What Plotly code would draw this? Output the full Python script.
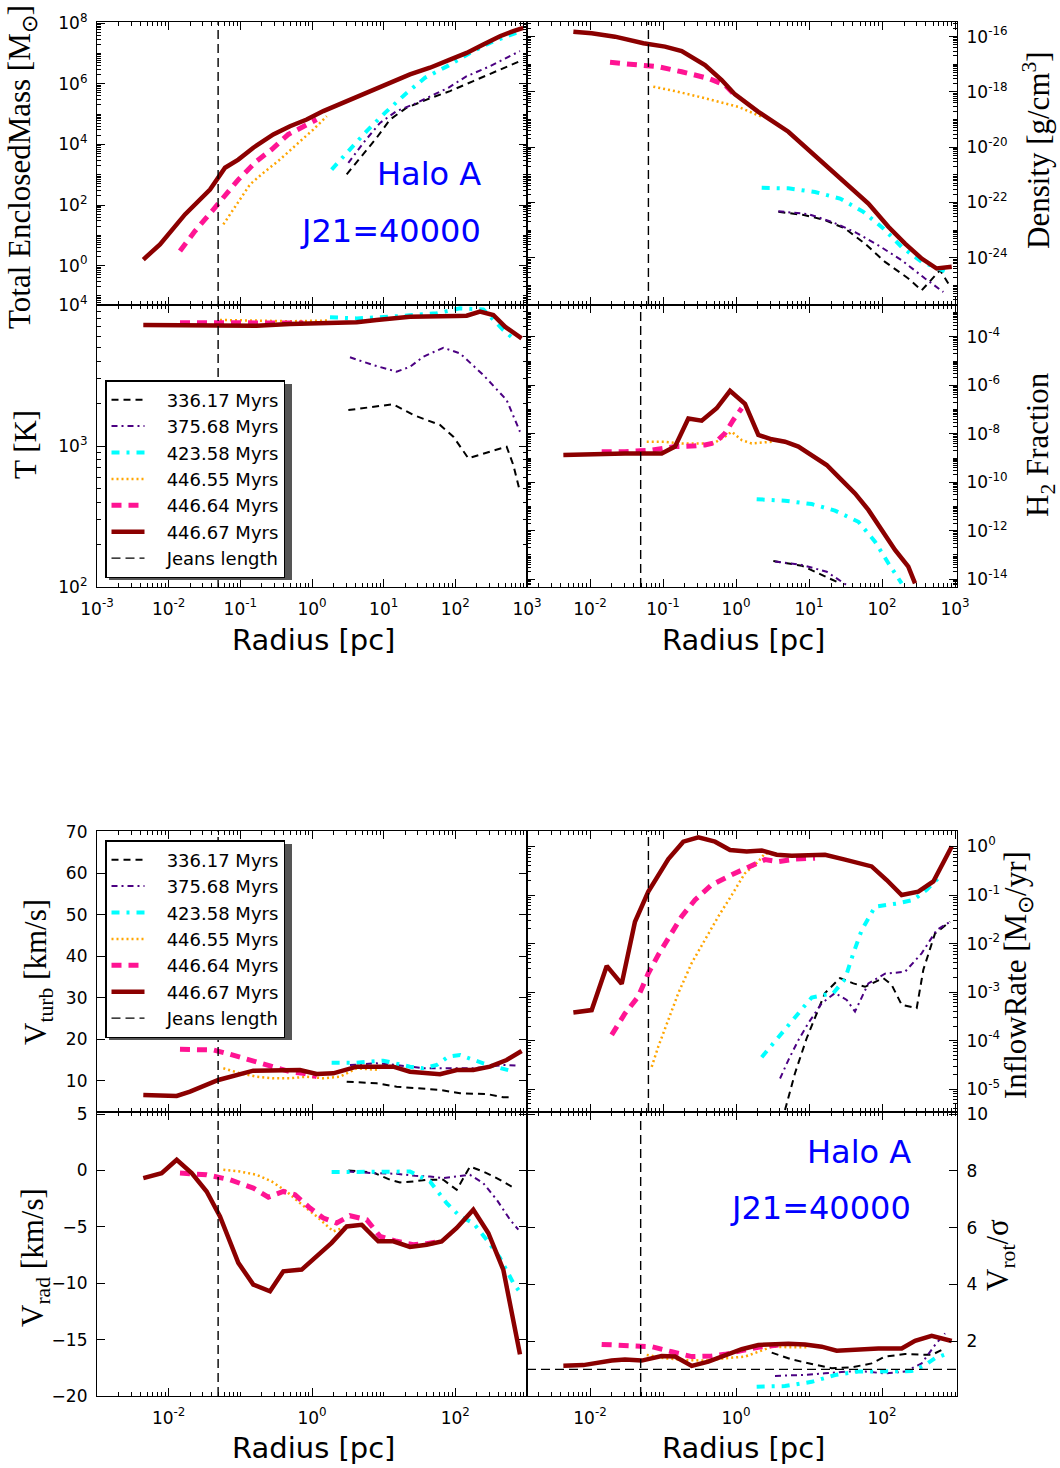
import numpy as np
import plotly.graph_objects as go

W, H = 1060, 1468

# Snapshot labels (legend order) and their line styles
SNAPS = ["336.17 Myrs", "375.68 Myrs", "423.58 Myrs", "446.55 Myrs", "446.64 Myrs", "446.67 Myrs"]
STYLE = {
    "336.17 Myrs": dict(color="black", width=2, dash="7px,5px"),
    "375.68 Myrs": dict(color="#4B0082", width=2, dash="6px,4px,2px,4px"),
    "423.58 Myrs": dict(color="#00FFFF", width=4, dash="8px,7px,3px,7px"),
    "446.55 Myrs": dict(color="#FFA500", width=2.5, dash="2px,3px"),
    "446.64 Myrs": dict(color="#FF1493", width=5, dash="10px,7px"),
    "446.67 Myrs": dict(color="#8B0000", width=4.5, dash="solid"),
}
JEANS_STYLE = dict(color="black", width=1.4, dash="9px,5px")
JEANS_LABEL = "Jeans length"

# ---------------- profiles: log10(radius / pc) and the profile value ----------------
# Total enclosed mass, log10(M / Msun)
mass_logr = {
    "336.17 Myrs": [0.484, 0.693, 0.902, 1.088, 1.321, 1.600, 1.925, 2.251, 2.577, 2.902],
    "375.68 Myrs": [0.507, 0.716, 0.949, 1.181, 1.414, 1.646, 1.902, 2.158, 2.483, 2.902],
    "423.58 Myrs": [0.274, 0.530, 0.763, 1.018, 1.297, 1.577, 1.902, 2.204, 2.483, 2.716, 2.925],
    "446.55 Myrs": [-1.237, -1.051, -0.865, -0.679, -0.447, -0.214, 0.018, 0.205],
    "446.64 Myrs": [-1.842, -1.633, -1.377, -1.191, -1.028, -0.772, -0.563, -0.331, -0.121, 0.065],
    "446.67 Myrs": [-2.354, -2.121, -1.772, -1.423, -1.214, -1.028, -0.819, -0.540, -0.307, -0.074, 0.158,
                    0.437, 0.763, 1.088, 1.367, 1.646, 1.925, 2.158, 2.390, 2.623, 2.809, 2.948],
}
mass_logm = {
    "336.17 Myrs": [3.01, 3.61, 4.22, 4.82, 5.21, 5.48, 5.76, 6.09, 6.42, 6.75],
    "375.68 Myrs": [3.39, 4.05, 4.71, 5.10, 5.32, 5.59, 5.87, 6.25, 6.58, 7.08],
    "423.58 Myrs": [3.17, 3.83, 4.44, 5.04, 5.65, 6.20, 6.60, 7.02, 7.35, 7.57, 7.74],
    "446.55 Myrs": [1.36, 2.02, 2.68, 3.06, 3.50, 4.00, 4.49, 4.93],
    "446.64 Myrs": [0.48, 1.14, 1.85, 2.35, 2.84, 3.45, 3.83, 4.33, 4.60, 4.82],
    "446.67 Myrs": [0.20, 0.70, 1.69, 2.51, 3.23, 3.50, 3.89, 4.33, 4.60, 4.82, 5.10,
                    5.39, 5.72, 6.03, 6.31, 6.53, 6.80, 7.02, 7.30, 7.57, 7.74, 7.85],
}

# Gas density, log10(rho / g cm^-3)
dens_logr = {
    "336.17 Myrs": [0.580, 0.945, 1.219, 1.493, 1.767, 2.041, 2.360, 2.543, 2.795, 2.908],
    "375.68 Myrs": [0.580, 0.990, 1.311, 1.630, 1.949, 2.269, 2.589, 2.840],
    "423.58 Myrs": [0.352, 0.717, 1.082, 1.425, 1.744, 2.018, 2.269, 2.543, 2.886],
    "446.55 Myrs": [-1.133, -0.836, -0.516, -0.242, 0.032, 0.352],
    "446.64 Myrs": [-1.726, -1.384, -1.064, -0.744, -0.379, -0.151, -0.014],
    "446.67 Myrs": [-2.228, -1.977, -1.658, -1.269, -0.973, -0.744, -0.425, -0.196, -0.014, 0.306,
                    0.717, 0.945, 1.265, 1.493, 1.813, 2.087, 2.315, 2.543, 2.749, 2.955],
}
dens_logrho = {
    "336.17 Myrs": [-22.34, -22.46, -22.64, -22.94, -23.49, -24.15, -24.75, -25.18, -24.45, -24.93],
    "375.68 Myrs": [-22.32, -22.42, -22.70, -23.07, -23.55, -24.09, -24.75, -25.24],
    "423.58 Myrs": [-21.47, -21.49, -21.62, -21.86, -22.34, -22.94, -23.61, -24.15, -24.51],
    "446.55 Myrs": [-17.81, -17.97, -18.17, -18.36, -18.54, -18.90],
    "446.64 Myrs": [-16.93, -16.99, -17.09, -17.27, -17.51, -17.75, -18.12],
    "446.67 Myrs": [-15.82, -15.88, -16.00, -16.24, -16.36, -16.52, -17.03, -17.57, -18.09, -18.72,
                    -19.44, -19.99, -20.71, -21.31, -22.04, -22.88, -23.49, -24.03, -24.39, -24.33],
}

# Temperature, log10(T / K)
temp_logr = {
    "336.17 Myrs": [0.507, 0.855, 1.134, 1.414, 1.786, 1.972, 2.181, 2.483, 2.716, 2.809, 2.902],
    "375.68 Myrs": [0.530, 0.855, 1.181, 1.367, 1.553, 1.832, 2.065, 2.390, 2.716, 2.902],
    "423.58 Myrs": [0.251, 0.623, 1.088, 1.740, 2.065, 2.390, 2.669, 2.832],
    "446.55 Myrs": [-1.284, -0.772, -0.307, 0.251],
    "446.64 Myrs": [-1.842, -1.237, -0.772, -0.121],
    "446.67 Myrs": [-2.354, -1.702, -1.237, -0.772, -0.307, 0.158, 0.623, 0.902, 1.367, 2.019,
                    2.158, 2.344, 2.530, 2.693, 2.925],
}
temp_logt = {
    "336.17 Myrs": [3.255, 3.279, 3.296, 3.220, 3.149, 3.066, 2.913, 2.960, 2.995, 2.865, 2.676],
    "375.68 Myrs": [3.629, 3.574, 3.527, 3.562, 3.633, 3.697, 3.657, 3.504, 3.326, 3.101],
    "423.58 Myrs": [3.913, 3.905, 3.917, 3.941, 3.976, 3.969, 3.823, 3.752],
    "446.55 Myrs": [3.894, 3.890, 3.885, 3.890],
    "446.64 Myrs": [3.875, 3.872, 3.870, 3.872],
    "446.67 Myrs": [3.858, 3.858, 3.858, 3.853, 3.865, 3.870, 3.877, 3.894, 3.917, 3.922,
                    3.924, 3.953, 3.929, 3.846, 3.764],
}

# Molecular hydrogen fraction, log10(f_H2)
h2_logr = {
    "336.17 Myrs": [0.511, 0.900, 1.174, 1.425],
    "375.68 Myrs": [0.534, 0.900, 1.242, 1.516],
    "423.58 Myrs": [0.283, 0.671, 1.037, 1.356, 1.676, 1.904, 2.087, 2.269],
    "446.55 Myrs": [-1.223, -0.973, -0.744, -0.516, -0.310, -0.151, -0.059, 0.078, 0.215, 0.489],
    "446.64 Myrs": [-1.840, -1.521, -1.155, -0.836, -0.607, -0.425, -0.288, -0.151, -0.037, 0.078],
    "446.67 Myrs": [-2.365, -1.977, -1.521, -1.018, -0.836, -0.653, -0.470, -0.265, -0.082, 0.123,
                    0.306, 0.489, 0.671, 0.854, 1.037, 1.242, 1.448, 1.630, 1.813, 1.996, 2.178,
                    2.360, 2.452],
}
h2_logf = {
    "336.17 Myrs": [-13.25, -13.44, -13.82, -14.17],
    "375.68 Myrs": [-13.27, -13.41, -13.69, -14.24],
    "423.58 Myrs": [-10.70, -10.76, -10.90, -11.17, -11.63, -12.45, -13.34, -14.17],
    "446.55 Myrs": [-8.33, -8.33, -8.40, -8.40, -8.40, -8.12, -7.92, -8.26, -8.40, -8.33],
    "446.64 Myrs": [-8.74, -8.74, -8.67, -8.53, -8.51, -8.46, -8.37, -7.98, -7.43, -6.95],
    "446.67 Myrs": [-8.88, -8.84, -8.81, -8.81, -8.53, -7.37, -7.46, -6.95, -6.23, -6.77,
                    -8.05, -8.23, -8.33, -8.53, -8.88, -9.29, -9.91, -10.46, -11.14, -11.97, -12.79,
                    -13.48, -14.17],
}

# Turbulent velocity, km/s
vturb_logr = {
    "336.17 Myrs": [0.484, 0.902, 1.181, 1.507, 1.786, 2.065, 2.437, 2.669, 2.786],
    "375.68 Myrs": [0.530, 0.902, 1.181, 1.553, 1.972, 2.251, 2.669, 2.879],
    "423.58 Myrs": [0.274, 0.623, 0.995, 1.367, 1.553, 1.740, 1.902, 2.065, 2.390, 2.763],
    "446.55 Myrs": [-1.237, -1.005, -0.772, -0.540, -0.307, -0.074, 0.158, 0.390, 0.623, 0.949],
    "446.64 Myrs": [-1.842, -1.377, -1.191, -0.865, -0.586, -0.307, -0.121, 0.065],
    "446.67 Myrs": [-2.354, -1.888, -1.702, -1.307, -0.819, -0.493, -0.168, 0.065, 0.297, 0.623,
                    0.949, 1.134, 1.367, 1.786, 2.019, 2.251, 2.483, 2.716, 2.925],
}
vturb_kms = {
    "336.17 Myrs": [9.76, 9.37, 8.55, 8.17, 7.76, 6.96, 6.79, 6.00, 6.00],
    "375.68 Myrs": [13.78, 14.19, 13.78, 12.99, 12.99, 12.99, 13.78, 13.60],
    "423.58 Myrs": [14.34, 14.34, 14.82, 13.38, 12.99, 13.78, 15.79, 16.20, 14.19, 12.41],
    "446.55 Myrs": [12.99, 11.78, 10.97, 10.58, 10.58, 10.97, 10.58, 10.97, 12.99, 12.58],
    "446.64 Myrs": [17.57, 17.40, 16.60, 14.99, 13.54, 12.17, 11.78, 10.97],
    "446.67 Myrs": [6.55, 6.31, 7.35, 10.17, 12.41, 12.41, 12.58, 11.62, 11.78, 13.38,
                    13.22, 13.38, 12.17, 11.54, 12.58, 12.58, 13.38, 14.99, 17.16],
}

# Mass inflow rate, log10(Mdot / Msun yr^-1)
inflow_logr = {
    "336.17 Myrs": [0.671, 0.808, 0.968, 1.082, 1.219, 1.425, 1.607, 1.767, 2.018, 2.132, 2.269,
                    2.475, 2.566, 2.726, 2.932],
    "375.68 Myrs": [0.603, 0.717, 0.854, 0.990, 1.174, 1.356, 1.516, 1.630, 1.813, 2.041, 2.315,
                    2.543, 2.749, 2.932],
    "423.58 Myrs": [0.352, 0.580, 0.808, 1.037, 1.333, 1.493, 1.607, 1.722, 1.904, 2.223, 2.429,
                    2.612, 2.818],
    "446.55 Myrs": [-1.155, -1.064, -0.927, -0.790, -0.607, -0.425, -0.242, -0.059, 0.123, 0.306,
                    0.397, 0.580],
    "446.64 Myrs": [-1.703, -1.521, -1.338, -1.201, -1.064, -0.927, -0.744, -0.562, -0.333, -0.059,
                    0.215, 0.397, 0.580, 0.808, 1.082],
    "446.67 Myrs": [-2.228, -1.977, -1.771, -1.566, -1.384, -1.201, -0.927, -0.722, -0.516, -0.288,
                    -0.082, 0.146, 0.352, 0.557, 0.763, 1.219, 1.493, 1.858, 2.064, 2.269, 2.497,
                    2.703, 2.955],
}
inflow_logmdot = {
    "336.17 Myrs": [-5.43, -4.67, -3.95, -3.51, -3.02, -2.71, -2.82, -2.89, -2.71, -2.85, -3.26,
                    -3.33, -2.54, -1.79, -1.55],
    "375.68 Myrs": [-4.78, -4.40, -3.99, -3.64, -3.23, -3.02, -3.16, -3.40, -2.82, -2.62, -2.58,
                    -2.20, -1.72, -1.55],
    "423.58 Myrs": [-4.34, -3.92, -3.51, -3.11, -3.02, -2.73, -2.20, -1.72, -1.24, -1.17, -1.10,
                    -0.89, -0.58],
    "446.55 Myrs": [-4.54, -4.12, -3.57, -3.02, -2.40, -1.92, -1.44, -1.00, -0.55, -0.31, -0.14, -0.17],
    "446.64 Myrs": [-3.88, -3.44, -3.09, -2.61, -2.23, -1.89, -1.44, -1.10, -0.79, -0.58, -0.38,
                    -0.27, -0.31, -0.26, -0.24],
    "446.67 Myrs": [-3.42, -3.37, -2.46, -2.83, -1.55, -0.93, -0.26, 0.10, 0.19, 0.10, -0.07, -0.10,
                    -0.08, -0.17, -0.19, -0.17, -0.27, -0.41, -0.69, -1.00, -0.93, -0.72, 0.00],
}

# Radial velocity, km/s
vrad_logr = {
    "336.17 Myrs": [0.507, 0.855, 1.088, 1.228, 1.414, 1.600, 1.832, 2.019, 2.204, 2.390, 2.577, 2.786],
    "375.68 Myrs": [0.507, 0.855, 1.181, 1.437, 1.646, 1.832, 2.019, 2.204, 2.390, 2.577, 2.763, 2.879],
    "423.58 Myrs": [0.274, 0.577, 0.995, 1.367, 1.646, 1.879, 2.065, 2.251, 2.437, 2.623, 2.809, 2.925],
    "446.55 Myrs": [-1.237, -1.005, -0.772, -0.563, -0.354, -0.168, 0.065, 0.297, 0.484, 0.716, 0.902],
    "446.64 Myrs": [-1.842, -1.470, -1.144, -0.819, -0.609, -0.400, -0.237, -0.028, 0.158, 0.344,
                    0.530, 0.763, 0.949, 1.181, 1.414, 1.600, 1.786],
    "446.67 Myrs": [-2.354, -2.098, -1.888, -1.679, -1.470, -1.284, -1.028, -0.819, -0.586, -0.400,
                    -0.144, 0.065, 0.274, 0.484, 0.693, 0.925, 1.134, 1.367, 1.600, 1.809, 2.019,
                    2.251, 2.460, 2.669, 2.902],
}
vrad_kms = {
    "336.17 Myrs": [0.00, -0.18, -0.82, -1.06, -0.97, -0.82, -0.82, -1.71, 0.35, -0.09, -0.67, -1.42],
    "375.68 Myrs": [-0.09, -0.23, -0.29, -0.47, -0.53, -0.67, -0.53, -0.38, -1.12, -2.59, -4.36, -5.25],
    "423.58 Myrs": [-0.14, -0.14, -0.09, -0.09, -0.97, -2.89, -4.07, -4.66, -6.13, -7.75, -9.97, -11.00],
    "446.55 Myrs": [0.06, -0.09, -0.38, -0.97, -1.86, -2.89, -4.07, -5.40, -4.96, -4.81, -6.13],
    "446.64 Myrs": [-0.23, -0.38, -0.82, -1.56, -2.36, -1.86, -2.15, -3.33, -4.21, -4.66, -4.01,
                    -4.36, -5.84, -6.28, -6.58, -6.49, -6.28],
    "446.67 Myrs": [-0.67, -0.23, 0.95, -0.23, -1.86, -4.07, -8.19, -10.12, -10.71, -8.94, -8.79,
                    -7.61, -6.42, -4.96, -4.81, -6.28, -6.28, -6.78, -6.58, -6.28, -5.10, -3.48,
                    -5.54, -8.79, -16.31],
}

# Rotational support, V_rot / sigma
vrot_logr = {
    "336.17 Myrs": [0.489, 0.763, 1.037, 1.310, 1.584, 1.858, 2.041, 2.315, 2.680, 2.840],
    "375.68 Myrs": [0.534, 0.900, 1.219, 1.493, 1.767, 2.041, 2.315, 2.543, 2.726, 2.863],
    "423.58 Myrs": [0.283, 0.671, 1.037, 1.356, 1.676, 2.041, 2.406, 2.589, 2.726, 2.909],
    "446.55 Myrs": [-1.223, -0.973, -0.699, -0.425, -0.151, 0.123, 0.306, 0.489, 0.717, 0.990],
    "446.64 Myrs": [-1.840, -1.521, -1.155, -0.881, -0.607, -0.333, -0.151, 0.078, 0.306, 0.580],
    "446.67 Myrs": [-2.365, -2.091, -1.703, -1.521, -1.292, -1.018, -0.836, -0.607, -0.379, -0.151,
                    0.078, 0.306, 0.717, 0.945, 1.173, 1.379, 1.676, 1.949, 2.269, 2.452, 2.680,
                    2.818, 2.955],
}
vrot_ratio = {
    "336.17 Myrs": [1.59, 1.35, 1.19, 1.04, 1.07, 1.21, 1.45, 1.54, 1.51, 1.71],
    "375.68 Myrs": [0.77, 0.80, 0.86, 0.92, 0.92, 0.86, 0.92, 1.21, 1.86, 2.27],
    "423.58 Myrs": [0.39, 0.41, 0.56, 0.80, 0.92, 0.94, 0.94, 1.15, 1.39, 1.57],
    "446.55 Myrs": [1.51, 1.39, 1.33, 1.31, 1.39, 1.45, 1.62, 1.80, 1.78, 1.78],
    "446.64 Myrs": [1.88, 1.86, 1.80, 1.62, 1.45, 1.47, 1.53, 1.66, 1.78, 1.86],
    "446.67 Myrs": [1.13, 1.15, 1.31, 1.35, 1.31, 1.47, 1.45, 1.12, 1.27, 1.51, 1.71, 1.86, 1.90,
                    1.88, 1.80, 1.66, 1.71, 1.74, 1.74, 2.01, 2.18, 2.11, 2.00],
}
VROT_UNITY = 1.0

# Jeans length of the central clump, log10(r / pc)
JEANS_LOGR_LEFT = -1.31
JEANS_LOGR_DENS = -1.20
JEANS_LOGR_H2 = -1.306

# ---------------- layout geometry (pixels) ----------------
COLS = [(97, 527), (527, 957)]
ROWS = [(22, 305), (305, 587), (831, 1112), (1112, 1396)]
XR_LEFT = [-3.0, 3.0]
XR_RIGHT = [-2.863, 3.027]


def xdom(c):
    return [COLS[c][0] / W, COLS[c][1] / W]


def ydom(r):
    return [1 - ROWS[r][1] / H, 1 - ROWS[r][0] / H]


def pow_label(e):
    return "10<sup>%d</sup>" % e


panels = [
    dict(logr=mass_logr, val=mass_logm, logy=True, row=0, col=0, yr=[-1.30, 8.04],
         yexp=range(-1, 9), ylab=[0, 2, 4, 6, 8], xlab=None, jeans=JEANS_LOGR_LEFT),
    dict(logr=dens_logr, val=dens_logrho, logy=True, row=0, col=1, yr=[-25.71, -15.47],
         yexp=range(-25, -15), ylab=[-24, -22, -20, -18, -16], xlab=None, jeans=JEANS_LOGR_DENS),
    dict(logr=temp_logr, val=temp_logt, logy=True, row=1, col=0, yr=[2.0, 4.0],
         yexp=range(2, 5), ylab=[2, 3, 4], xlab=[-3, -2, -1, 0, 1, 2, 3], jeans=JEANS_LOGR_LEFT,
         legend="legend"),
    dict(logr=h2_logr, val=h2_logf, logy=True, row=1, col=1, yr=[-14.32, -2.69],
         yexp=range(-14, -2), ylab=[-14, -12, -10, -8, -6, -4], xlab=[-2, -1, 0, 1, 2, 3],
         jeans=JEANS_LOGR_H2),
    dict(logr=vturb_logr, val=vturb_kms, logy=False, row=2, col=0, yr=[2.45, 70.2],
         ylin=[10, 20, 30, 40, 50, 60, 70], xlab=None, jeans=JEANS_LOGR_LEFT, legend="legend2"),
    dict(logr=inflow_logr, val=inflow_logmdot, logy=True, row=2, col=1, yr=[-5.47, 0.32],
         yexp=range(-5, 1), ylab=[-5, -4, -3, -2, -1, 0], xlab=None, jeans=JEANS_LOGR_DENS),
    dict(logr=vrad_logr, val=vrad_kms, logy=False, row=3, col=0, yr=[-20.0, 5.19],
         ylin=[-20, -15, -10, -5, 0, 5], xlab=[-2, 0, 2], jeans=JEANS_LOGR_LEFT),
    dict(logr=vrot_logr, val=vrot_ratio, logy=False, row=3, col=1, yr=[0.06, 10.08],
         ylin=[2, 4, 6, 8, 10], xlab=[-2, 0, 2], jeans=JEANS_LOGR_H2, hline=VROT_UNITY),
]

TICKFONT = dict(family="DejaVu Sans", size=17, color="black")
AXIS_BASE = dict(showline=True, linecolor="black", linewidth=1.2, mirror="ticks", ticks="inside",
                 ticklen=8, tickwidth=1, tickcolor="black", showgrid=False, zeroline=False,
                 tickfont=TICKFONT, automargin=False)

# padding between a legend line sample and its label
LEGEND_PAD = "\u00a0\u00a0\u00a0"


def minor_log(lo, hi, extra=()):
    """Minor ticks at 2..9 x 10^k, plus any unlabelled decades."""
    vals = [m * 10.0 ** k for k in range(lo, hi) for m in range(2, 10)]
    return vals + [10.0 ** e for e in extra]


def minor_style(vals):
    return dict(ticks="inside", ticklen=4, tickcolor="black", tickwidth=1,
                tickmode="array", tickvals=vals, showgrid=False)


fig = go.Figure()
layout = {}
shapes = []

for i, p in enumerate(panels, start=1):
    xa = "x" if i == 1 else "x%d" % i
    ya = "y" if i == 1 else "y%d" % i
    leg = p.get("legend")
    for s in SNAPS:
        x = 10.0 ** np.array(p["logr"][s])
        y = 10.0 ** np.array(p["val"][s]) if p["logy"] else np.array(p["val"][s])
        fig.add_trace(go.Scatter(
            x=x, y=y, mode="lines", name=LEGEND_PAD + s, line=STYLE[s], xaxis=xa, yaxis=ya,
            showlegend=leg is not None, legend=leg or "legend", hoverinfo="skip"))
    if leg is not None:
        fig.add_trace(go.Scatter(
            x=[None], y=[None], mode="lines", name=LEGEND_PAD + JEANS_LABEL, line=JEANS_STYLE,
            xaxis=xa, yaxis=ya, showlegend=True, legend=leg, hoverinfo="skip"))

    # Jeans length marker
    rj = 10.0 ** p["jeans"]
    shapes.append(dict(type="line", xref=xa, yref=ya + " domain", x0=rj, x1=rj, y0=0, y1=1,
                       line=JEANS_STYLE, layer="above"))
    if "hline" in p:
        shapes.append(dict(type="line", xref=xa + " domain", yref=ya, x0=0, x1=1,
                           y0=p["hline"], y1=p["hline"], line=JEANS_STYLE, layer="above"))

    # x axis: labelled decades are major ticks, the rest go with the minor ticks
    left = p["col"] == 0
    xr = XR_LEFT if left else XR_RIGHT
    xexp = list(range(-3, 4)) if left else list(range(-2, 4))
    xlab = p["xlab"]
    if xlab is None:
        xmaj, xoff = xexp, []
    else:
        xmaj = [e for e in xexp if e in xlab]
        xoff = [e for e in xexp if e not in xlab]
    xax = dict(AXIS_BASE, type="log", domain=xdom(p["col"]), range=xr, anchor=ya,
               tickmode="array", tickvals=[10.0 ** e for e in xmaj],
               showticklabels=xlab is not None, ticklabelstandoff=6,
               minor=minor_style(minor_log(-4, 4, xoff)))
    if xlab is not None:
        xax["ticktext"] = [pow_label(e) for e in xmaj]
    # y axis
    yax = dict(AXIS_BASE, domain=ydom(p["row"]), anchor=xa, side="left" if left else "right",
               ticklabelstandoff=5)
    if p["logy"]:
        yexp = list(p["yexp"])
        ymaj = [e for e in yexp if e in p["ylab"]]
        yoff = [e for e in yexp if e not in p["ylab"]]
        yax.update(type="log", range=p["yr"], tickmode="array",
                   tickvals=[10.0 ** e for e in ymaj],
                   ticktext=[pow_label(e) for e in ymaj],
                   minor=minor_style(minor_log(yexp[0] - 1, yexp[-1] + 1, yoff)))
    else:
        yax.update(type="linear", range=p["yr"], tickmode="array", tickvals=p["ylin"],
                   ticktext=[str(v).replace("-", "\u2212") for v in p["ylin"]])
    layout["xaxis" if i == 1 else "xaxis%d" % i] = xax
    layout["yaxis" if i == 1 else "yaxis%d" % i] = yax

# legend drop shadows
for top in (380, 840):
    shapes.append(dict(type="rect", xref="paper", yref="paper", x0=109 / W, x1=292 / W,
                       y0=1 - (top + 200) / H, y1=1 - (top + 4) / H,
                       fillcolor="#555555", line=dict(width=0), layer="above"))

SERIF = dict(family="Liberation Serif", size=31, color="black")
SANS_T = dict(family="DejaVu Sans", size=29, color="black")
BLUE = dict(family="DejaVu Sans", size=32, color="#0000FF")


def ann(text, x, y, font, angle=0, xanchor="center"):
    return dict(text=text, x=x / W, y=1 - y / H, xref="paper", yref="paper", showarrow=False,
                font=font, textangle=angle, xanchor=xanchor, yanchor="middle")


annotations = [
    ann("Total EnclosedMass [M<sub>\u2299</sub>]", 22, 167, SERIF, -90),
    ann("T [K]", 25, 445, SERIF, -90),
    ann("Density [g/cm<sup>3</sup>]", 1036, 150, SERIF, -90),
    ann("H<sub>2</sub> Fraction", 1040, 445, SERIF, -90),
    ann("V<sub>turb</sub> [km/s]", 38, 972, SERIF, -90),
    ann("V<sub>rad</sub> [km/s]", 35, 1258, SERIF, -90),
    ann("InflowRate [M<sub>\u2299</sub>/yr]", 1018, 975, SERIF, -90),
    ann("V<sub>rot</sub>/\u03c3", 1000, 1255, SERIF, -90),
    ann("Radius [pc]", 313, 640, SANS_T),
    ann("Radius [pc]", 743, 640, SANS_T),
    ann("Radius [pc]", 313, 1448, SANS_T),
    ann("Radius [pc]", 743, 1448, SANS_T),
    ann("Halo A", 483, 174, BLUE, xanchor="right"),
    ann("J21=40000", 483, 231, BLUE, xanchor="right"),
    ann("Halo A", 913, 1152, BLUE, xanchor="right"),
    ann("J21=40000", 913, 1208, BLUE, xanchor="right"),
]

LEGEND_BASE = dict(xanchor="left", yanchor="top", bgcolor="white", bordercolor="black",
                   borderwidth=1.5, font=dict(family="DejaVu Sans", size=18, color="black"),
                   itemwidth=33, tracegroupgap=0, traceorder="normal")

fig.update_layout(
    template="none",
    width=W, height=H, margin=dict(l=0, r=0, t=0, b=0, autoexpand=False),
    font=dict(family="DejaVu Sans", color="black"),
    paper_bgcolor="white", plot_bgcolor="white",
    legend=dict(LEGEND_BASE, x=105 / W, y=1 - 380 / H),
    legend2=dict(LEGEND_BASE, x=105 / W, y=1 - 840 / H),
    shapes=shapes, annotations=annotations, **layout,
)

fig.write_html("out.html")
